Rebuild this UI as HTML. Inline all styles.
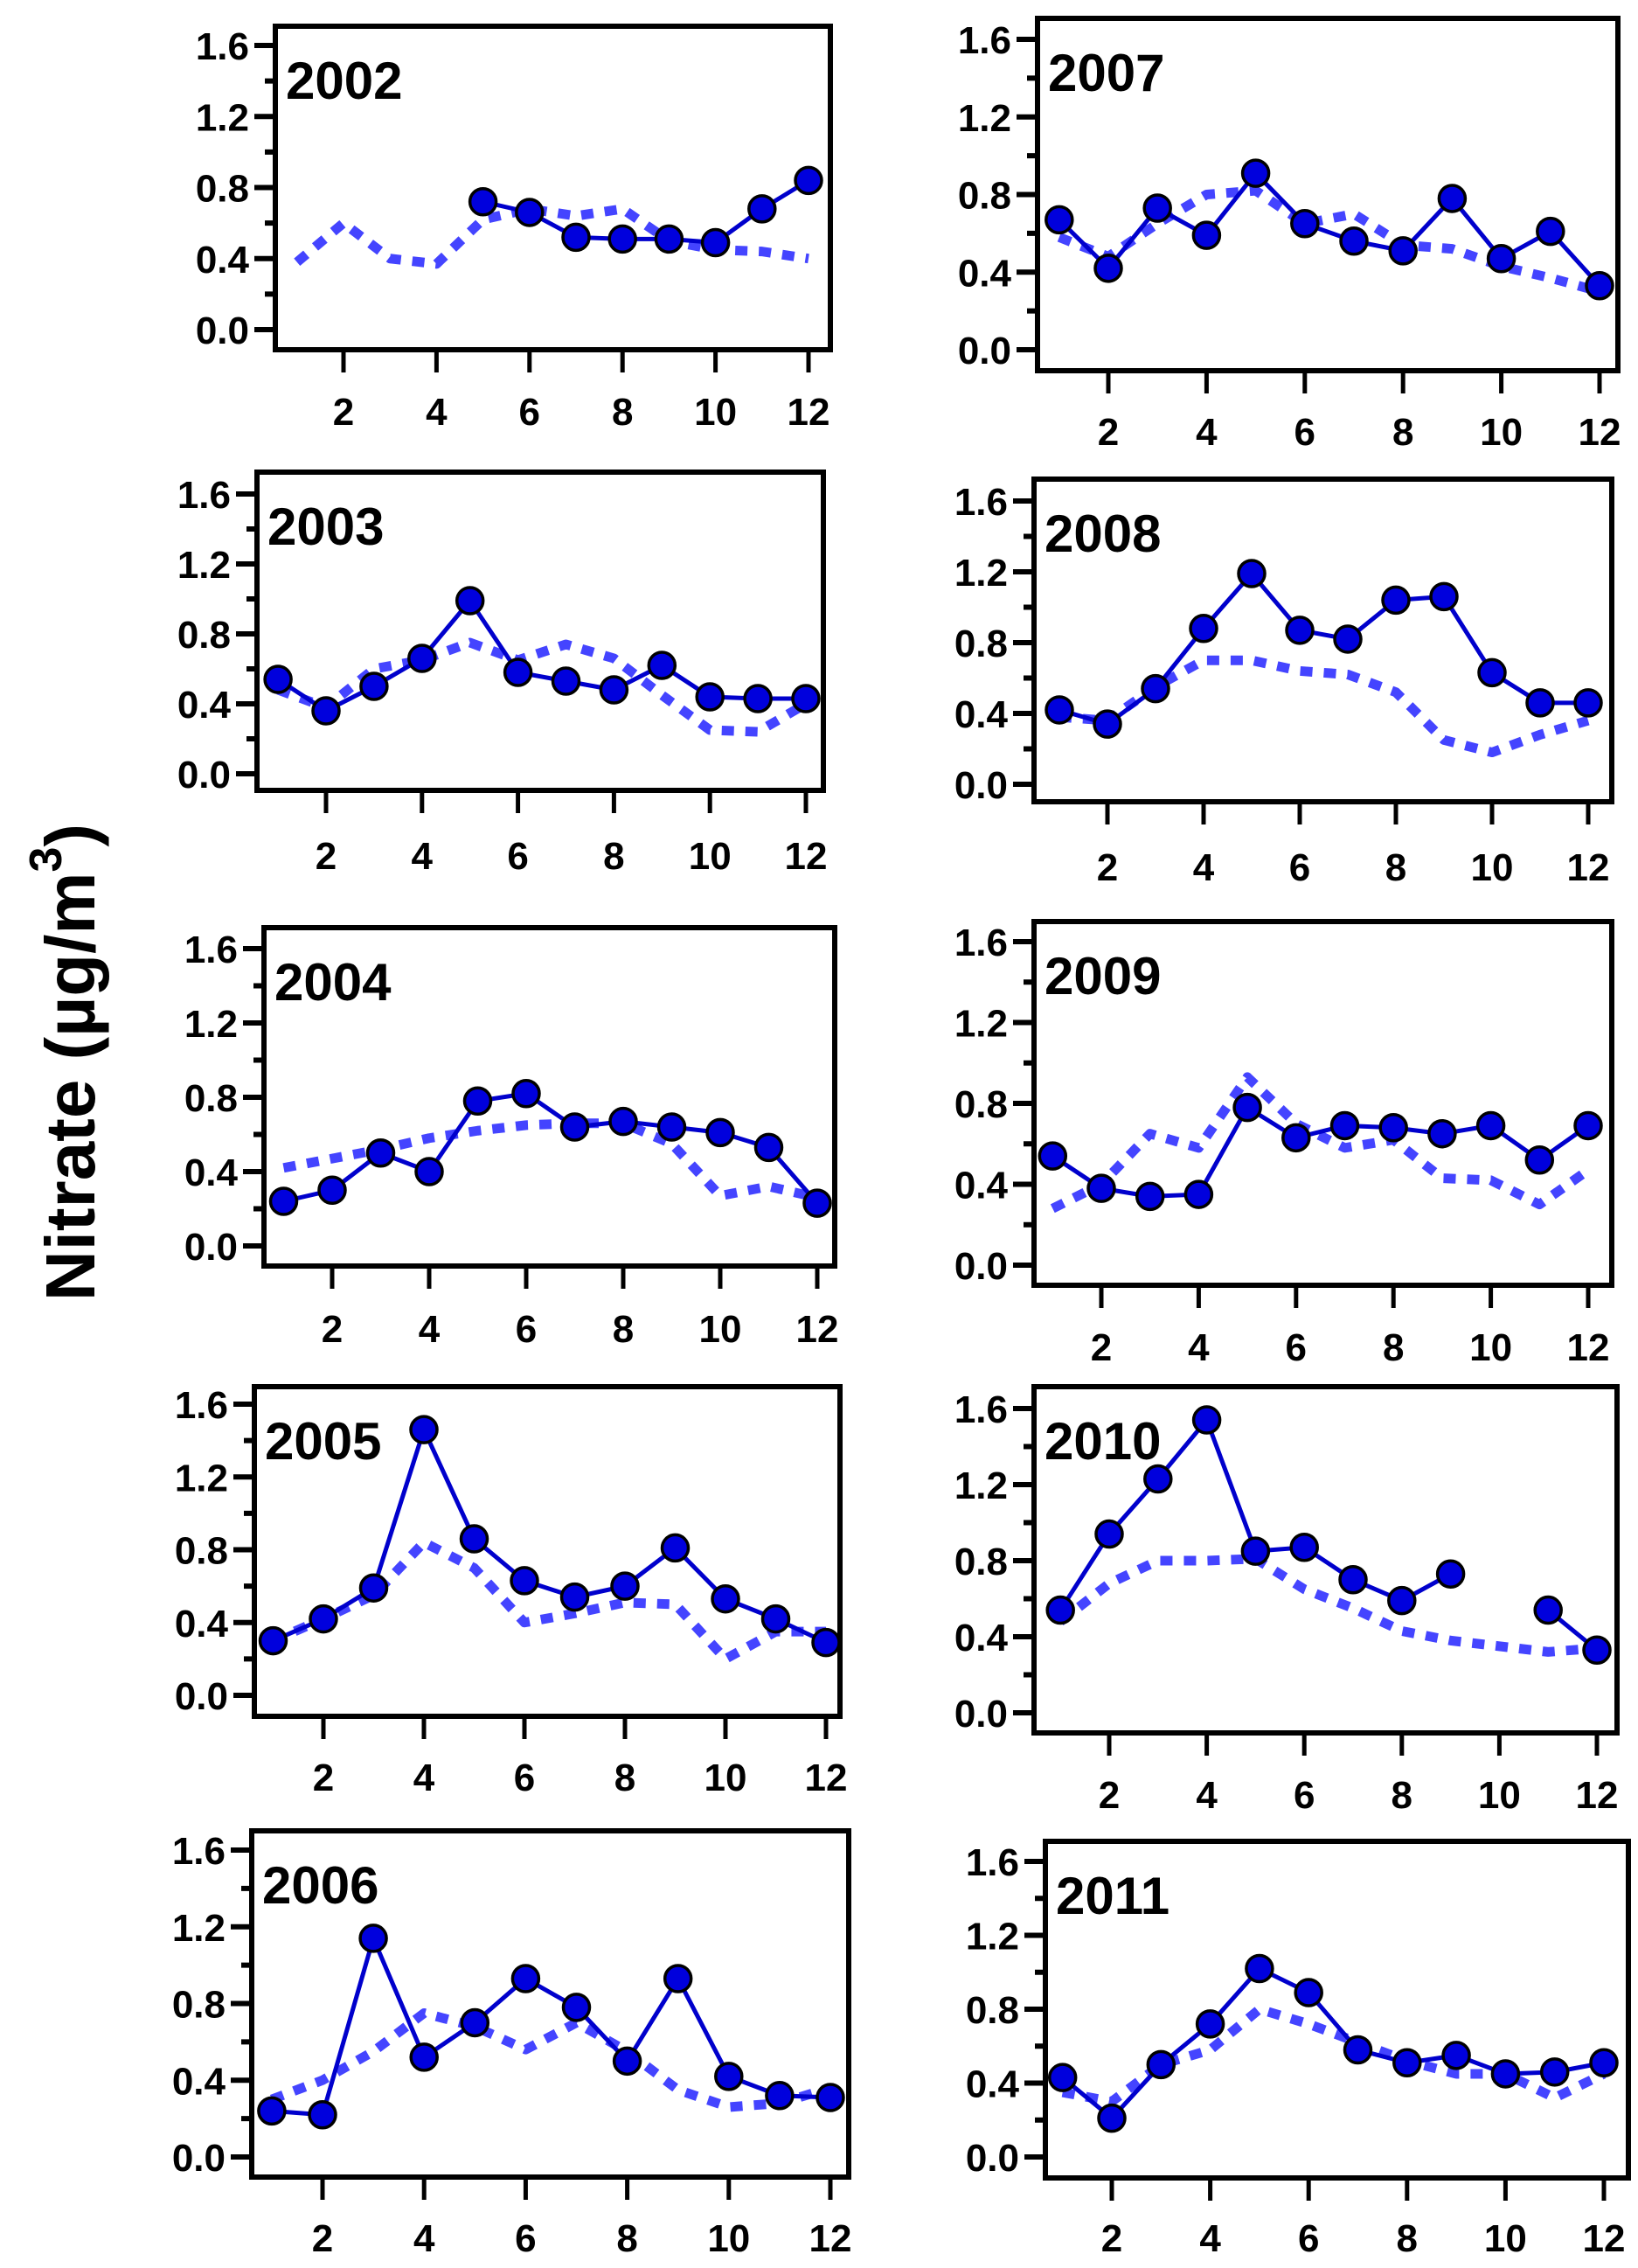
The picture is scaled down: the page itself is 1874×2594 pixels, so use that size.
<!DOCTYPE html>
<html><head><meta charset="utf-8"><style>
html,body{margin:0;padding:0;background:#fff;}
svg{display:block;font-family:"Liberation Sans",Arial,sans-serif;font-weight:bold;}
</style></head><body>
<svg id="fig" width="1874" height="2594" viewBox="0 0 1874 2594" xmlns="http://www.w3.org/2000/svg">
<text transform="translate(108,1215) rotate(-90)" text-anchor="middle" font-size="80">Nitrate (µg/m<tspan dy="-38" font-size="52">3</tspan><tspan dy="38">)</tspan></text>
</svg>
<script>
const years=["2002","2003","2004","2005","2006","2007","2008","2009","2010","2011"];
const months=[1,2,3,4,5,6,7,8,9,10,11,12];
const yTicks=[0.0,0.4,0.8,1.2,1.6];
const xTicks=[2,4,6,8,10,12];
const obs2002=[null,null,null,null,0.72,0.66,0.52,0.51,0.51,0.49,0.68,0.84];
const mod2002=[0.38,0.60,0.40,0.37,0.62,0.68,0.64,0.68,0.50,0.45,0.44,0.40];
const obs2003=[0.54,0.36,0.50,0.66,0.99,0.58,0.53,0.48,0.62,0.44,0.43,0.43];
const mod2003=[0.48,0.38,0.60,0.65,0.75,0.65,0.74,0.66,0.45,0.25,0.24,0.40];
const obs2004=[0.24,0.30,0.50,0.40,0.78,0.82,0.64,0.67,0.64,0.61,0.53,0.23];
const mod2004=[0.42,0.47,0.52,0.58,0.62,0.65,0.66,0.66,0.55,0.27,0.32,0.26];
const obs2005=[0.30,0.42,0.59,1.46,0.86,0.63,0.54,0.60,0.81,0.53,0.42,0.29];
const mod2005=[0.30,0.42,0.55,0.84,0.70,0.40,0.45,0.51,0.50,0.20,0.35,0.35];
const obs2006=[0.24,0.22,1.14,0.52,0.70,0.93,0.78,0.50,0.93,0.42,0.32,0.31];
const mod2006=[0.30,0.40,0.55,0.75,0.68,0.56,0.70,0.55,0.35,0.26,0.28,0.36];
const obs2007=[0.67,0.42,0.73,0.59,0.91,0.65,0.56,0.51,0.78,0.47,0.61,0.33];
const mod2007=[0.58,0.48,0.65,0.80,0.82,0.65,0.70,0.54,0.52,0.43,0.37,0.30];
const obs2008=[0.42,0.34,0.54,0.88,1.19,0.87,0.82,1.04,1.06,0.63,0.46,0.46];
const mod2008=[0.38,0.36,0.55,0.70,0.70,0.64,0.62,0.52,0.25,0.18,0.28,0.36];
const obs2009=[0.54,0.38,0.34,0.35,0.78,0.63,0.69,0.68,0.65,0.69,0.52,0.69];
const mod2009=[0.28,0.40,0.65,0.58,0.93,0.70,0.58,0.62,0.43,0.42,0.30,0.47];
const obs2010=[0.54,0.94,1.23,1.54,0.85,0.87,0.70,0.59,0.73,null,0.54,0.33];
const mod2010=[0.48,0.68,0.80,0.80,0.81,0.65,0.55,0.43,0.38,0.35,0.32,0.34];
const obs2011=[0.43,0.21,0.50,0.72,1.02,0.89,0.58,0.51,0.55,0.45,0.46,0.51];
const mod2011=[0.35,0.30,0.50,0.58,0.80,0.72,0.62,0.52,0.45,0.45,0.32,0.45];
const obsAll=[obs2002,obs2003,obs2004,obs2005,obs2006,obs2007,obs2008,obs2009,obs2010,obs2011];
const modAll=[mod2002,mod2003,mod2004,mod2005,mod2006,mod2007,mod2008,mod2009,mod2010,mod2011];
const L=[
[315,950,30,400,377,52,393,925,470],
[294,942,540,904,885,565,373,922,978],
[302,955,1061,1448,1425,1085,380,935,1519],
[291,961,1586,1963,1939,1606,370,945,2032],
[288,971,2094,2490,2467,2116,369,950,2559],
[1187,1851,21,424,400,45,1268,1830,493],
[1183,1844,548,917,897,573,1267,1817,991],
[1183,1844,1054,1470,1447,1077,1260,1817,1540],
[1183,1850,1586,1982,1959,1611,1269,1827,2052],
[1196,1863,2106,2491,2467,2129,1272,1835,2559]];
const NS="http://www.w3.org/2000/svg";
const svg=document.getElementById('fig');
function mk(tag,attrs,parent){const e=document.createElementNS(NS,tag);for(const k in attrs)e.setAttribute(k,attrs[k]);(parent||svg).appendChild(e);return e;}
years.forEach((yr,i)=>{
  const [l,r,t,b,y0,y16,x2,x12,ly]=L[i];
  const g=mk('g',{});
  
  
  const sx=m=>x2+(m-2)*(x12-x2)/10;
  const sy=v=>y0+(y16-y0)*v/1.6;
  const box=mk('rect',{x:l,y:t,width:r-l,height:b-t,fill:'none',stroke:'#000','stroke-width':6},g);
  
  
  for(let v=0;v<=1.6001;v+=0.2){
    const major=Math.abs(v/0.4-Math.round(v/0.4))<1e-6;
    const tk=mk('line',{x1:l-(major?24:12),x2:l,y1:sy(v),y2:sy(v),stroke:'#000','stroke-width':6},g);
    
    
  }
  yTicks.forEach(v=>{
    const tx=mk('text',{x:l-30,y:sy(v)+16,'text-anchor':'end','font-size':44},g);
    tx.textContent=v.toFixed(1);
    
    
  });
  xTicks.forEach(m=>{
    const tk=mk('line',{x1:sx(m),x2:sx(m),y1:b,y2:b+26,stroke:'#000','stroke-width':5},g);
    
    
    const tx=mk('text',{x:sx(m),y:ly+16,'text-anchor':'middle','font-size':44},g);
    tx.textContent=String(m);
    
    
  });
  const yl=mk('text',{x:l+12,y:t+83,'font-size':60},g);
  yl.textContent=yr;
  
  
  const md=modAll[i];
  let d='';
  months.forEach((m,k)=>{if(md[k]!=null)d+=(d?'L':'M')+sx(m)+','+sy(md[k]);});
  const dl=mk('path',{d:d,fill:'none',stroke:'#4444ff','stroke-width':11,'stroke-dasharray':'14,13','stroke-linejoin':'round'},g);
  
  
  const ob=obsAll[i];
  let s='',prev=false;
  months.forEach((m,k)=>{if(ob[k]!=null){s+=(prev?'L':'M')+sx(m)+','+sy(ob[k]);prev=true;}else prev=false;});
  const sl=mk('path',{d:s,fill:'none',stroke:'#0000cc','stroke-width':5},g);
  
  
  months.forEach((m,k)=>{
    if(ob[k]==null)return;
    const c=mk('circle',{cx:sx(m),cy:sy(ob[k]),r:15,fill:'#0000dd',stroke:'#000','stroke-width':3.5},g);
    
    
  });
});
</script>
</body></html>
